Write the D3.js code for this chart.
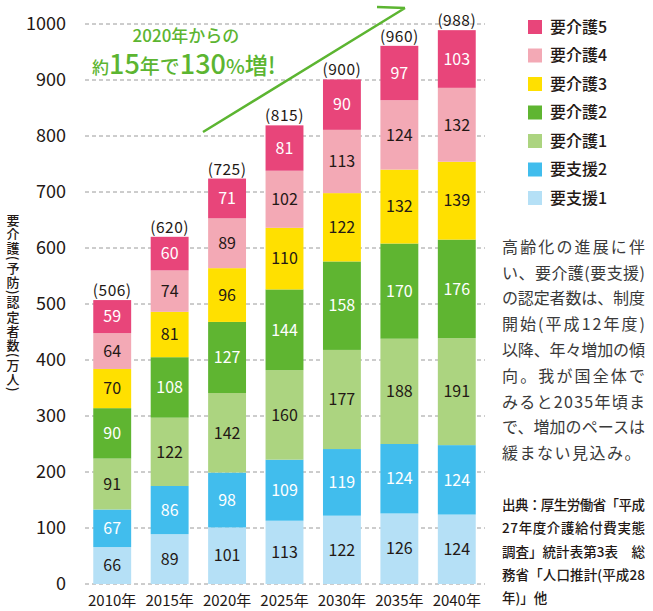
<!DOCTYPE html>
<html>
<head>
<meta charset="utf-8">
<script src="https://cdn.jsdelivr.net/npm/d3@7"></script>
<style>
  body { margin: 0; background: #fff; }
  text { font-family: "Noto Sans CJK JP", "Noto Sans", sans-serif; }
</style>
</head>
<body>
<div id="chart"></div>
<script>
// data, bottom of stack first
const years = ["2010年", "2015年", "2020年", "2025年", "2030年", "2035年", "2040年"];
const categories = ["要支援1", "要支援2", "要介護1", "要介護2", "要介護3", "要介護4", "要介護5"];
const shien1 = [66, 89, 101, 113, 122, 126, 124];
const shien2 = [67, 86, 98, 109, 119, 124, 124];
const kaigo1 = [91, 122, 142, 160, 177, 188, 191];
const kaigo2 = [90, 108, 127, 144, 158, 170, 176];
const kaigo3 = [70, 81, 96, 110, 122, 132, 139];
const kaigo4 = [64, 74, 89, 102, 113, 124, 132];
const kaigo5 = [59, 60, 71, 81, 90, 97, 103];
const totals = [506, 620, 725, 815, 900, 960, 988];
const yTicks = [0, 100, 200, 300, 400, 500, 600, 700, 800, 900, 1000];

const seriesValues = [shien1, shien2, kaigo1, kaigo2, kaigo3, kaigo4, kaigo5];
const colors = ["#b5e0f6", "#41bded", "#acd480", "#5fb531", "#ffe000", "#f3a9b5", "#e8457a"];
const labelColors = ["#231815", "#fff", "#231815", "#fff", "#231815", "#231815", "#fff"];
const ink = "#231815";
const green = "#5cb531";

const width = 653, height = 611;

const svg = d3.select("#chart")
  .append("svg")
  .attr("width", width)
  .attr("height", height);

// scales
const x = d3.scaleBand()
  .domain(years)
  .range([83.5, 485.5])
  .paddingInner(0.34)
  .paddingOuter(0.17);

const y = d3.scaleLinear()
  .domain([0, 1000])
  .range([584, 24]);

// rows for stacking
const rows = years.map((yr, i) => {
  const r = { year: yr };
  categories.forEach((c, k) => r[c] = seriesValues[k][i]);
  return r;
});
const stacked = d3.stack().keys(categories)(rows);

// grid
svg.append("g")
  .selectAll("line")
  .data(yTicks)
  .enter()
  .append("line")
  .attr("x1", 85)
  .attr("x2", 485)
  .attr("y1", d => y(d))
  .attr("y2", d => y(d))
  .attr("stroke", "#9a9a9a")
  .attr("stroke-width", 1)
  .attr("stroke-dasharray", "4,3");

// y tick labels
svg.append("g")
  .selectAll("text")
  .data(yTicks)
  .enter()
  .append("text")
  .attr("x", 66)
  .attr("y", d => y(d))
  .attr("dy", "0.36em")
  .attr("text-anchor", "end")
  .attr("fill", ink)
  .style("font-size", "18px")
  .text(d => d);

// y axis title (vertical)
svg.append("text")
  .attr("x", 13)
  .attr("y", 303)
  .attr("writing-mode", "vertical-rl")
  .attr("text-anchor", "middle")
  .attr("fill", ink)
  .style("font-size", "13px")
  .style("font-weight", "500")
  .style("letter-spacing", "1.2px")
  .text("要介護(予防)認定者数(万人)");

// bars
const layer = svg.selectAll(".layer")
  .data(stacked)
  .enter()
  .append("g")
  .attr("class", "layer");

layer.selectAll("rect")
  .data(d => d)
  .enter()
  .append("rect")
  .attr("x", d => x(d.data.year))
  .attr("width", x.bandwidth())
  .attr("y", d => y(d[1]))
  .attr("height", d => y(d[0]) - y(d[1]))
  .attr("fill", (d, i, n) => colors[d3.select(n[i].parentNode).datum().index]);

// segment labels
layer.each(function(s) {
  d3.select(this).selectAll("text")
    .data(s)
    .enter()
    .append("text")
    .attr("x", d => x(d.data.year) + x.bandwidth() / 2)
    .attr("y", d => (y(d[0]) + y(d[1])) / 2)
    .attr("dy", "0.36em")
    .attr("text-anchor", "middle")
    .attr("fill", labelColors[s.index])
    .style("font-size", "16px")
    .text(d => d.data[s.key]);
});

// totals
svg.append("g")
  .selectAll("text")
  .data(years)
  .enter()
  .append("text")
  .attr("x", d => x(d) + x.bandwidth() / 2)
  .attr("y", (d, i) => y(stacked[stacked.length - 1][i][1]) - 4)
  .attr("text-anchor", "middle")
  .attr("fill", ink)
  .style("font-size", "15.5px")
  .style("letter-spacing", "0.5px")
  .text((d, i) => "(" + totals[i] + ")");

// x labels
svg.append("g")
  .selectAll("text")
  .data(years)
  .enter()
  .append("text")
  .attr("x", d => x(d) + x.bandwidth() / 2)
  .attr("y", 606)
  .attr("text-anchor", "middle")
  .attr("fill", ink)
  .style("font-size", "15px")
  .text(d => d);

// arrow
svg.append("path")
  .attr("d", "M203,132 L405,8 M377,7 L405,8")
  .attr("fill", "none")
  .attr("stroke", green)
  .attr("stroke-width", 2.5);

// annotation
svg.append("text")
  .attr("x", 186)
  .attr("y", 42)
  .attr("text-anchor", "middle")
  .attr("fill", green)
  .style("font-size", "17px")
  .style("font-weight", "500")
  .text("2020年からの");

const ann = svg.append("text")
  .attr("x", 92)
  .attr("y", 74)
  .attr("fill", green)
  .style("font-weight", "500");
const annParts = [["約", 17], ["15", 27], ["年で", 20], ["130", 27], ["%", 20], ["増!", 23]];
annParts.forEach(p => ann.append("tspan").style("font-size", p[1] + "px").text(p[0]));

// legend (top = 要介護5)
const legendItems = categories.slice().reverse();
const legendColors = colors.slice().reverse();
const legend = svg.selectAll(".legend")
  .data(legendItems)
  .enter()
  .append("g")
  .attr("class", "legend")
  .attr("transform", (d, i) => `translate(528,${27 + i * 28.5})`);

legend.append("rect")
  .attr("y", -7)
  .attr("width", 14)
  .attr("height", 14)
  .attr("fill", (d, i) => legendColors[i]);

legend.append("text")
  .attr("x", 22)
  .attr("dy", "0.36em")
  .attr("fill", ink)
  .style("font-size", "16px")
  .style("font-weight", "500")
  .text(d => d);

// side note
const noteLines = ["高齢化の進展に伴", "い、要介護(要支援)", "の認定者数は、制度", "開始(平成12年度)",
  "以降、年々増加の傾", "向。我が国全体で", "みると2035年頃ま", "で、増加のペースは", "緩まない見込み。"];
svg.append("g")
  .selectAll("text")
  .data(noteLines)
  .enter()
  .append("text")
  .attr("x", 502)
  .attr("y", (d, i) => 247 + i * 25.8)
  .attr("dy", "0.36em")
  .attr("fill", "#3a3a3a")
  .style("font-size", "16px")
  .each(function(d, i) {
    if (i < noteLines.length - 1) {
      d3.select(this).attr("textLength", 143).attr("lengthAdjust", "spacing");
    } else {
      d3.select(this).style("letter-spacing", "1.5px");
    }
  })
  .text(d => d);

const sourceLines = ["出典：厚生労働省「平成", "27年度介護給付費実態", "調査」統計表第3表　総", "務省「人口推計(平成28", "年)」他"];
svg.append("g")
  .selectAll("text")
  .data(sourceLines)
  .enter()
  .append("text")
  .attr("x", 502)
  .attr("y", (d, i) => 505 + i * 23.4)
  .attr("dy", "0.36em")
  .attr("fill", ink)
  .style("font-size", "13.5px")
  .style("font-weight", "500")
  .each(function(d, i) {
    if (i < sourceLines.length - 1) {
      d3.select(this).attr("textLength", 143).attr("lengthAdjust", "spacing");
    }
  })
  .text(d => d);
</script>
</body>
</html>
